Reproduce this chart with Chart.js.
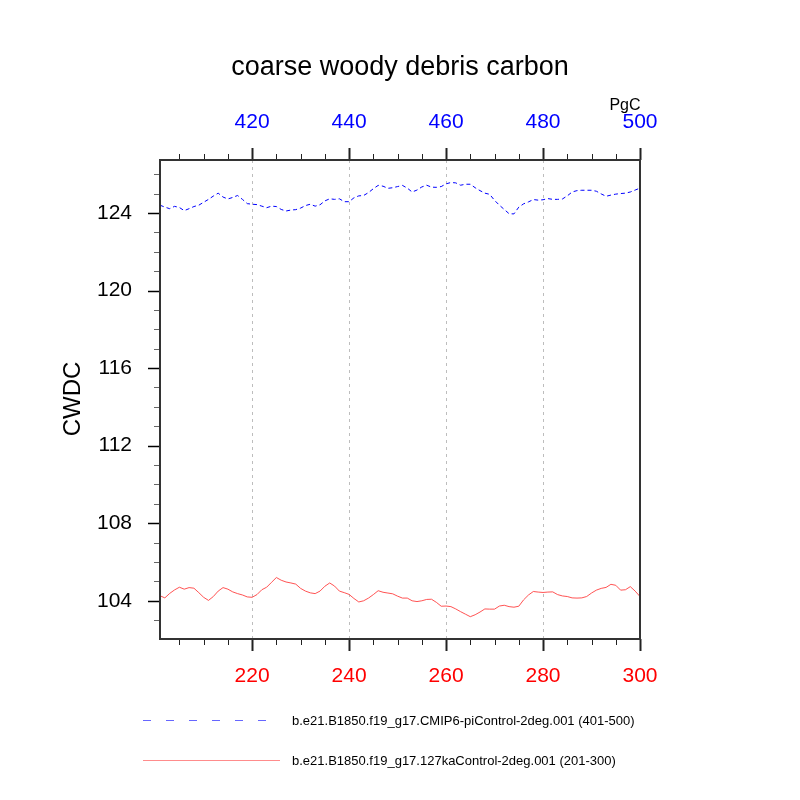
<!DOCTYPE html>
<html>
<head>
<meta charset="utf-8">
<script src="https://cdn.jsdelivr.net/npm/chart.js@4.4.1/dist/chart.umd.min.js"></script>
<style>
  html, body { margin: 0; padding: 0; background: #fff; }
  canvas { display: block; }
</style>
</head>
<body>
<canvas id="cwdcChart" width="800" height="800"></canvas>
<script>
/* ---------------- DATA ---------------- */
// model years (bottom axis = 127ka run, top axis = piControl run)
const kaYears = [];
const piYears = [];
for (let yr = 201; yr <= 300; yr++) kaYears.push(yr);
for (let yr = 401; yr <= 500; yr++) piYears.push(yr);

// CWDC, PgC
const cwdcPi = [
  124.40, 124.30, 124.22, 124.34, 124.28, 124.12, 124.22, 124.33, 124.40, 124.55,
  124.70, 124.87, 125.02, 124.82, 124.72, 124.80, 124.90, 124.70, 124.48, 124.45,
  124.43, 124.35, 124.27, 124.35, 124.33, 124.18, 124.10, 124.15, 124.17, 124.25,
  124.38, 124.45, 124.35, 124.42, 124.62, 124.73, 124.70, 124.73, 124.58, 124.58,
  124.78, 124.88, 124.90, 125.05, 125.25, 125.42, 125.38, 125.27, 125.30, 125.36,
  125.42, 125.28, 125.08, 125.18, 125.34, 125.43, 125.33, 125.32, 125.36, 125.50,
  125.57, 125.55, 125.43, 125.48, 125.48, 125.30, 125.15, 125.02, 124.96, 124.65,
  124.40, 124.18, 123.96, 123.95, 124.30, 124.47, 124.57, 124.69, 124.66, 124.68,
  124.74, 124.70, 124.70, 124.72, 124.88, 125.08, 125.15, 125.17, 125.17, 125.17,
  125.12, 124.98, 124.86, 124.92, 124.97, 125.00, 125.02, 125.08, 125.18, 125.28
];
const cwdcKa = [
  104.26, 104.15, 104.38, 104.56, 104.70, 104.60, 104.68, 104.65, 104.42, 104.18,
  104.02, 104.22, 104.50, 104.68, 104.60, 104.46, 104.37, 104.30, 104.20, 104.18,
  104.32, 104.57, 104.70, 104.95, 105.20, 105.06, 104.97, 104.92, 104.86, 104.64,
  104.50, 104.41, 104.37, 104.50, 104.75, 104.92, 104.76, 104.50, 104.42, 104.33,
  104.12, 103.94, 104.00, 104.14, 104.32, 104.52, 104.44, 104.40, 104.36, 104.24,
  104.14, 104.14, 104.00, 103.96, 104.00, 104.07, 104.08, 103.92, 103.72, 103.73,
  103.70, 103.58, 103.44, 103.31, 103.18, 103.28, 103.42, 103.58, 103.57, 103.57,
  103.73, 103.77, 103.70, 103.67, 103.72, 104.05, 104.30, 104.48, 104.45, 104.43,
  104.45, 104.46, 104.32, 104.25, 104.22, 104.15, 104.14, 104.15, 104.22, 104.40,
  104.55, 104.64, 104.69, 104.85, 104.80, 104.55, 104.57, 104.73, 104.50, 104.22
];

const bottomTickLabels = [220, 240, 260, 280, 300];
const topTickLabels = [420, 440, 460, 480, 500];
const yTickLabels = [104, 108, 112, 116, 120, 124];
const yMin = 102.03;
const yMax = 126.73;

const piLabel = "b.e21.B1850.f19_g17.CMIP6-piControl-2deg.001 (401-500)";
const kaLabel = "b.e21.B1850.f19_g17.127kaControl-2deg.001 (201-300)";

const FONT = "'Liberation Sans', Arial, Helvetica, sans-serif";

/* ---------------- PLUGIN: grid, frame, tick marks, texts ---------------- */
const ncLook = {
  id: "ncLook",
  beforeDatasetsDraw(chart) {
    const { ctx, chartArea: a, scales } = chart;
    ctx.save();
    ctx.strokeStyle = "#bdbdbd";
    ctx.lineWidth = 1;
    ctx.setLineDash([3, 4]);
    kaYears.forEach((yr, i) => {
      if (yr % 20 !== 0 || yr === 300) return;
      const px = Math.round(scales.x.getPixelForValue(i)) + 0.5;
      ctx.beginPath();
      ctx.moveTo(px, a.top);
      ctx.lineTo(px, a.bottom);
      ctx.stroke();
    });
    ctx.restore();
  },
  afterDraw(chart) {
    const { ctx, chartArea: a, scales } = chart;
    ctx.save();

    // tick marks (outward)
    ctx.strokeStyle = "#222";
    kaYears.forEach((yr, i) => {
      if (yr % 5 !== 0) return;
      const major = yr % 20 === 0;
      const px = Math.round(scales.x.getPixelForValue(i)) + 0.5;
      ctx.lineWidth = major ? 2 : 1;
      ctx.beginPath();
      ctx.moveTo(px, a.bottom);
      ctx.lineTo(px, a.bottom + (major ? 12 : 6));
      ctx.stroke();
    });
    piYears.forEach((yr, i) => {
      if (yr % 5 !== 0) return;
      const major = yr % 20 === 0;
      const px = Math.round(scales.x2.getPixelForValue(i)) + 0.5;
      ctx.lineWidth = major ? 2 : 1;
      ctx.beginPath();
      ctx.moveTo(px, a.top);
      ctx.lineTo(px, a.top - (major ? 12 : 6));
      ctx.stroke();
    });
    for (let v = Math.ceil(yMin); v <= Math.floor(yMax); v++) {
      const major = yTickLabels.includes(v);
      const py = Math.round(scales.y.getPixelForValue(v)) + 0.5;
      ctx.lineWidth = major ? 1.5 : 1;
      ctx.strokeStyle = major ? "#000" : "#666";
      ctx.beginPath();
      ctx.moveTo(a.left, py);
      ctx.lineTo(a.left - (major ? 12 : 6), py);
      ctx.stroke();
    }

    // frame
    ctx.strokeStyle = "#333";
    ctx.lineWidth = 2;
    ctx.setLineDash([]);
    ctx.strokeRect(a.left, a.top, a.right - a.left, a.bottom - a.top);

    // title
    ctx.fillStyle = "#000";
    ctx.textAlign = "center";
    ctx.textBaseline = "alphabetic";
    ctx.font = "27px " + FONT;
    ctx.fillText("coarse woody debris carbon", 400, 75);

    // units
    ctx.font = "16px " + FONT;
    ctx.fillText("PgC", 625, 110);

    // y title
    ctx.save();
    ctx.translate(80, 399);
    ctx.rotate(-Math.PI / 2);
    ctx.font = "24px " + FONT;
    ctx.fillText("CWDC", 0, 0);
    ctx.restore();

    // legend
    const rows = [
      { ds: chart.data.datasets[0], y: 720, x1: 270, dash: [8, 15] },
      { ds: chart.data.datasets[1], y: 760, x1: 280, dash: [] },
    ];
    rows.forEach((r) => {
      ctx.strokeStyle = r.ds.borderColor;
      ctx.globalAlpha = 0.6;
      ctx.lineWidth = 1;
      ctx.setLineDash(r.dash);
      ctx.beginPath();
      ctx.moveTo(143, r.y + 0.5);
      ctx.lineTo(r.x1, r.y + 0.5);
      ctx.stroke();
      ctx.globalAlpha = 1;
      ctx.setLineDash([]);
      ctx.fillStyle = "#000";
      ctx.textAlign = "left";
      ctx.textBaseline = "middle";
      ctx.font = "13px " + FONT;
      ctx.fillText(r.ds.label, 292, r.y + 1);
    });

    ctx.restore();
  },
};

/* ---------------- CHART ---------------- */
const ctx = document.getElementById("cwdcChart").getContext("2d");

new Chart(ctx, {
  type: "line",
  data: {
    labels: kaYears,
    datasets: [
      {
        label: piLabel,
        data: cwdcPi,
        xAxisID: "x2",
        yAxisID: "y",
        borderColor: "#0000ff",
        borderWidth: 1,
        borderDash: [4, 3],
        pointRadius: 0,
        tension: 0,
        fill: false,
      },
      {
        label: kaLabel,
        data: cwdcKa,
        xAxisID: "x",
        yAxisID: "y",
        borderColor: "#ff4040",
        borderWidth: 0.9,
        pointRadius: 0,
        tension: 0,
        fill: false,
      },
    ],
  },
  options: {
    responsive: false,
    animation: false,
    devicePixelRatio: 1,
    layout: { padding: { left: 0, right: 160, top: 0, bottom: 0 } },
    plugins: { legend: { display: false }, tooltip: { enabled: false }, title: { display: false } },
    scales: {
      x: {
        type: "category",
        position: "bottom",
        offset: false,
        grid: { display: false, drawTicks: false },
        border: { display: false },
        ticks: {
          autoSkip: false,
          maxRotation: 0,
          minRotation: 0,
          padding: 25,
          color: "#ff0000",
          font: { family: FONT, size: 21 },
          callback: (v, i) => (bottomTickLabels.includes(kaYears[i]) ? String(kaYears[i]) : ""),
        },
        afterFit: (s) => { s.height = 161; },
      },
      x2: {
        type: "category",
        position: "top",
        labels: piYears,
        offset: false,
        grid: { display: false, drawTicks: false },
        border: { display: false },
        ticks: {
          autoSkip: false,
          maxRotation: 0,
          minRotation: 0,
          padding: 25,
          color: "#0000ff",
          font: { family: FONT, size: 21 },
          callback: (v, i) => (topTickLabels.includes(piYears[i]) ? String(piYears[i]) : ""),
        },
        afterFit: (s) => { s.height = 160; },
      },
      y: {
        type: "linear",
        position: "left",
        min: yMin,
        max: yMax,
        grid: { display: false, drawTicks: false },
        border: { display: false },
        afterBuildTicks: (s) => { s.ticks = yTickLabels.map((v) => ({ value: v })); },
        ticks: {
          autoSkip: false,
          padding: 28,
          color: "#000",
          font: { family: FONT, size: 21 },
          callback: (v) => String(v),
        },
        afterFit: (s) => { s.width = 160; },
      },
    },
  },
  plugins: [ncLook],
});
</script>
</body>
</html>
